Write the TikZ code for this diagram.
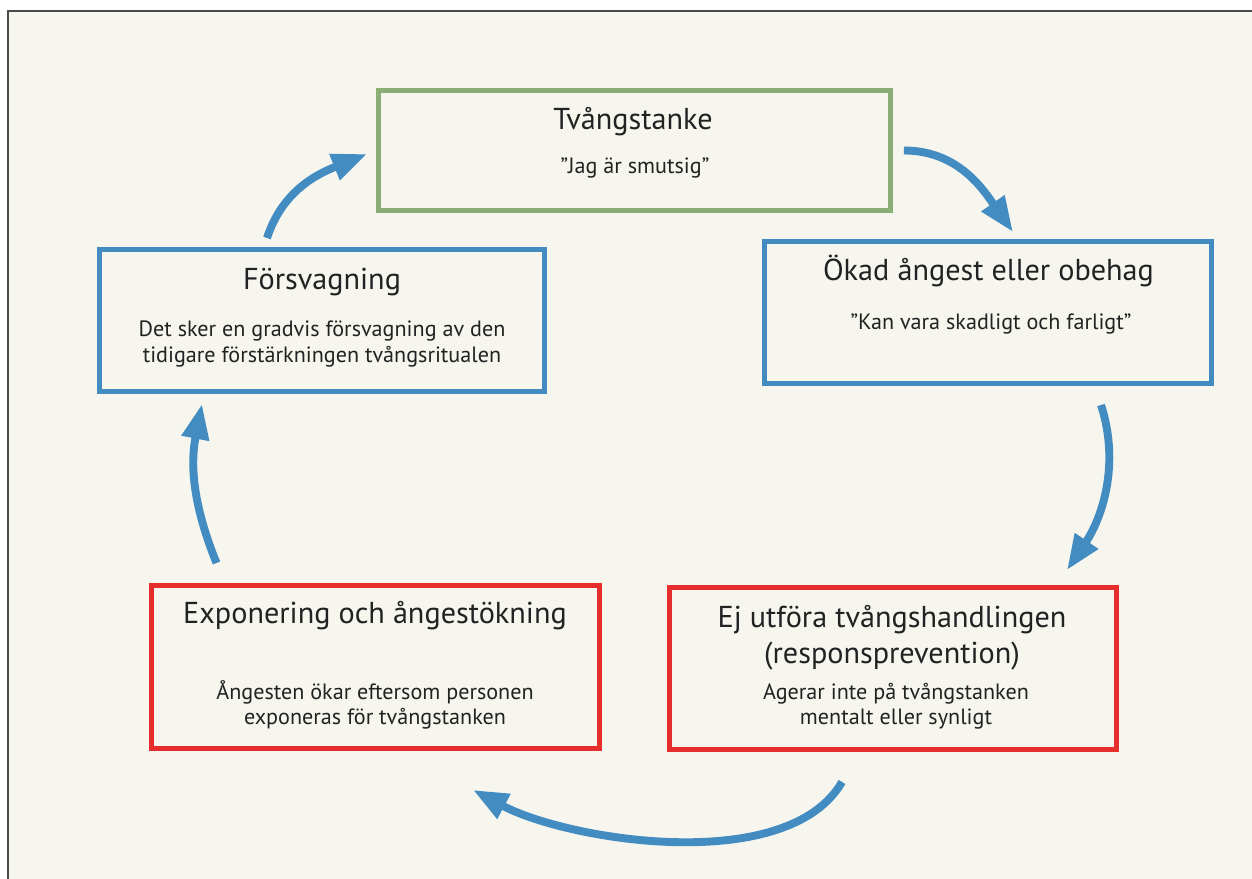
\documentclass[tikz,border=0pt]{standalone}
\usepackage{fontspec}
\setmainfont{PT Sans}
\usetikzlibrary{arrows.meta, calc, positioning}

\definecolor{bg}{HTML}{F6F5EE}
\definecolor{frameline}{HTML}{4A4A4A}
\definecolor{boxblue}{HTML}{438CC1}
\definecolor{boxgreen}{HTML}{8AAF74}
\definecolor{boxred}{HTML}{E62E2D}
\definecolor{ink}{HTML}{222222}

\tikzset{
  box/.style={draw=#1, line width=2.83pt, fill=bg, inner sep=0pt},
  title/.style={font=\fontsize{17.2}{20.4}\selectfont, text=ink, align=center, inner sep=0pt, anchor=base},
  desc/.style={font=\fontsize{12.6}{14.7}\selectfont, text=ink, align=center, inner sep=0pt, anchor=base},
  flow/.style={draw=boxblue, line width=4.5pt, -{Triangle[length=20pt,width=15pt]}}
}

\begin{document}
\begin{tikzpicture}[x=0.02cm, y=0.02cm]
\useasboundingbox (0,0) rectangle (1252,879);
\fill[white] (0,0) rectangle (1252,879);
\fill[bg] (8,0) rectangle (1252,868);
\draw[frameline, line width=0.85pt] (8,0) -- (8,868) -- (1252,868);

% boxes
\node[box=boxgreen, minimum width=10.24cm, minimum height=2.40cm] (tanke) at (634.5,728.5) {};
\node[box=boxblue, minimum width=8.94cm, minimum height=2.84cm] (angest) at (988,566.5) {};
\node[box=boxred, minimum width=8.94cm, minimum height=3.24cm] (ej) at (893,210.5) {};
\node[box=boxred, minimum width=8.96cm, minimum height=3.26cm] (expo) at (375.5,212) {};
\node[box=boxblue, minimum width=8.90cm, minimum height=2.84cm] (forsv) at (322,558.5) {};

% texts (base = last line)
\node[title] (tanke-t) at (633,749) {Tvångstanke};
\node[desc] (tanke-d) at (635,705) {”Jag är smutsig”};
\node[title] (angest-t) at (988.5,598.3) {Ökad ångest eller obehag};
\node[desc] (angest-d) at (991,549) {”Kan vara skadligt och farligt”};
\node[title] (ej-t) at (892,215.7) {Ej utföra tvångshandlingen\\(responsprevention)};
\node[desc] (ej-d) at (896,154) {Agerar inte på tvångstanken\\mentalt eller synligt};
\node[title] (expo-t) at (375,255) {Exponering och ångestökning};
\node[desc] (expo-d) at (375,154) {Ångesten ökar eftersom personen\\exponeras för tvångstanken};
\node[title] (forsv-t) at (322,589.7) {Försvagning};
\node[desc] (forsv-d) at (322,516.3) {Det sker en gradvis försvagning av den\\tidigare förstärkningen tvångsritualen};

% cycle
\draw[flow] ($(forsv.north)+(-55,9)$) to[out=72,in=202] ($(tanke.west)+(-9,-3.5)$);
\draw[flow] ($(tanke.east)+(11,0)$) to[out=0,in=125] ($(angest.north)+(25,7)$);
\draw[flow] ($(angest.south)+(113,-19)$) to[out=-72,in=56,looseness=0.95] ($(ej.north)+(174,15)$);
\draw[flow] ($(ej.south)+(-51,-30)$) to[out=240,in=-28,looseness=0.75] ($(expo.south)+(97.5,-39)$);
\draw[flow] ($(expo.north)+(-159,20)$) to[out=112,in=259] ($(forsv.south)+(-120,-10)$);
\end{tikzpicture}
\end{document}
